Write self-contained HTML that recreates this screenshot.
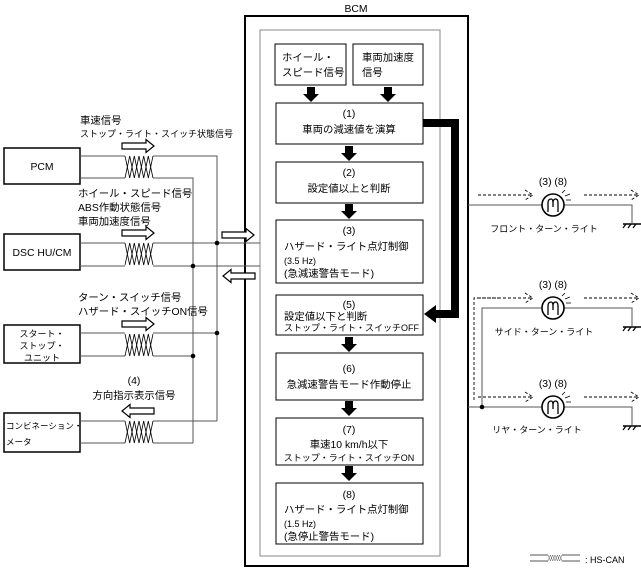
<!DOCTYPE html>
<html><head><meta charset="utf-8"><style>
html,body{margin:0;padding:0;background:#fff;}
svg{display:block;}
text{font-family:"Liberation Sans","Noto Sans CJK JP",sans-serif;fill:#000;}
.s{font-size:9px}.m{font-size:10.4px}
</style></head><body>
<svg width="641" height="573" viewBox="0 0 641 573" xmlns="http://www.w3.org/2000/svg">
<defs>
<g id="tw" fill="none" stroke="#000" stroke-width="0.8">
<polyline points="0,0 4.7,22 9.3,0 14,22 18.7,0 23.3,22 28,0"/>
<polyline points="0,22 4.7,0 9.3,22 14,0 18.7,22 23.3,0 28,22"/>
</g>
<path id="har" d="M0,-3 H24 V-6.5 L32,0 L24,6.5 V3 H0 Z" fill="#fff" stroke="#000" stroke-width="1.2"/>
<path id="bar" d="M-4,0 H4 V7 H8 L0,15 L-8,7 H-4 Z" fill="#000"/>
<g id="lamp" fill="none" stroke="#000">
<circle cx="0" cy="0" r="11" stroke-width="1.6" fill="#fff"/>
<path d="M-5,7 V-2 Q-5,-6 -2,-6 Q0,-6 0,-2 V2 M0,-2 Q0,-6 2.5,-6 Q5,-6 5,-2 V7" stroke-width="1.3"/>
<path d="M9,-12 L12,-15 M12,-9 L17,-11 M13,-5 L18,-5" stroke-width="0.8"/>
</g>
<g id="gnd" stroke="#000" fill="none">
<line x1="-9" y1="0" x2="9" y2="0" stroke-width="1.6"/>
<path d="M-6,0 L-9,4 M-1,0 L-4,4 M4,0 L1,4" stroke-width="1.2"/>
</g>
<path id="dar" d="M0,0 H53 M47,-5 L55,0 L47,5" fill="none" stroke="#000" stroke-width="0.9" stroke-dasharray="3,2"/>
</defs>

<!-- BCM -->
<text x="356" y="12" class="m" text-anchor="middle">BCM</text>
<rect x="245" y="16" width="223" height="550" fill="none" stroke="#000" stroke-width="2"/>
<rect x="260" y="30" width="180" height="526" fill="none" stroke="#888" stroke-width="1"/>

<g fill="#fff" stroke="#000" stroke-width="1">
<rect x="275" y="44" width="71" height="41"/>
<rect x="353" y="44" width="70" height="41"/>
<rect x="276" y="103" width="147" height="41"/>
<rect x="276" y="162" width="147" height="41"/>
<rect x="276" y="220" width="147" height="63"/>
<rect x="276" y="295" width="147" height="40"/>
<rect x="276" y="353" width="147" height="47"/>
<rect x="276" y="418" width="147" height="47"/>
<rect x="276" y="483" width="147" height="61"/>
</g>
<text x="282" y="61" class="m">ホイール・</text>
<text x="282" y="76" class="m">スピード信号</text>
<text x="362" y="61" class="m">車両加速度</text>
<text x="362" y="76" class="m">信号</text>
<use href="#bar" x="311" y="87"/>
<use href="#bar" x="388" y="87"/>
<text x="349" y="117" class="m" text-anchor="middle">(1)</text>
<text x="349" y="133" class="m" text-anchor="middle">車両の減速値を演算</text>
<use href="#bar" x="349" y="146"/>
<text x="349" y="176" class="m" text-anchor="middle">(2)</text>
<text x="349" y="192" class="m" text-anchor="middle">設定値以上と判断</text>
<use href="#bar" x="349" y="204"/>
<text x="349" y="234" class="m" text-anchor="middle">(3)</text>
<text x="284" y="250" class="m">ハザード・ライト点灯制御</text>
<text x="284" y="264" class="s">(3.5 Hz)</text>
<text x="284" y="277" class="m">(急減速警告モード)</text>
<text x="349" y="308" class="m" text-anchor="middle">(5)</text>
<text x="284" y="320" class="m">設定値以下と判断</text>
<text x="284" y="331" class="s">ストップ・ライト・スイッチOFF</text>
<use href="#bar" x="349" y="337"/>
<text x="349" y="372" class="m" text-anchor="middle">(6)</text>
<text x="349" y="388" class="m" text-anchor="middle">急減速警告モード作動停止</text>
<use href="#bar" x="349" y="401"/>
<text x="349" y="433" class="m" text-anchor="middle">(7)</text>
<text x="349" y="448" class="m" text-anchor="middle">車速10 km/h以下</text>
<text x="349" y="461" class="s" text-anchor="middle">ストップ・ライト・スイッチON</text>
<use href="#bar" x="349" y="466"/>
<text x="349" y="498" class="m" text-anchor="middle">(8)</text>
<text x="284" y="513" class="m">ハザード・ライト点灯制御</text>
<text x="284" y="527" class="s">(1.5 Hz)</text>
<text x="284" y="540" class="m">(急停止警告モード)</text>

<!-- thick bracket -->
<path d="M423,123 H455 V314 H434" fill="none" stroke="#000" stroke-width="8"/>
<path d="M424,314 L436,305 V323 Z" fill="#000"/>

<!-- left modules -->
<g fill="#fff" stroke="#000" stroke-width="1.5">
<rect x="4" y="148" width="76" height="36"/>
<rect x="4" y="234" width="76" height="36"/>
<rect x="4" y="325" width="76" height="38"/>
<rect x="4" y="413" width="76" height="39"/>
</g>
<text x="42" y="170" class="m" text-anchor="middle">PCM</text>
<text x="42" y="256" class="m" text-anchor="middle">DSC HU/CM</text>
<text x="42" y="337" class="s" text-anchor="middle">スタート・</text>
<text x="42" y="349" class="s" text-anchor="middle">ストップ・</text>
<text x="42" y="361" class="s" text-anchor="middle">ユニット</text>
<text x="6" y="429" class="s" style="font-size:8.5px">コンビネーション・</text>
<text x="6" y="445" class="s" style="font-size:8.5px">メータ</text>

<g stroke="#555" stroke-width="1" fill="none">
<path d="M80,156 H125 M153,156 H217 V421"/>
<path d="M80,178 H125 M153,178 H193 V443"/>
<path d="M80,243 H125 M153,243 H260"/>
<path d="M80,266 H125 M153,266 H260"/>
<path d="M80,333 H125 M153,333 H217"/>
<path d="M80,356 H125 M153,356 H193"/>
<path d="M80,421 H125 M153,421 H217"/>
<path d="M80,443 H125 M153,443 H193"/>
</g>
<use href="#tw" x="125" y="156"/>
<use href="#tw" x="125" y="243"/>
<use href="#tw" x="125" y="334"/>
<use href="#tw" x="125" y="421"/>
<g fill="#000">
<circle cx="217" cy="243" r="2.3"/><circle cx="193" cy="266" r="2.3"/>
<circle cx="217" cy="333" r="2.3"/><circle cx="193" cy="356" r="2.3"/>
</g>
<use href="#har" x="122" y="146"/>
<use href="#har" x="122" y="233"/>
<use href="#har" x="122" y="324"/>
<use href="#har" transform="translate(154,411) scale(-1,1)"/>
<use href="#har" x="222" y="235"/>
<use href="#har" transform="translate(255,276) scale(-1,1)"/>

<text x="80" y="124" class="m">車速信号</text>
<text x="80" y="137" class="s">ストップ・ライト・スイッチ状態信号</text>
<text x="78" y="197" class="m">ホイール・スピード信号</text>
<text x="78" y="211" class="m">ABS作動状態信号</text>
<text x="78" y="225" class="m">車両加速度信号</text>
<text x="78" y="301" class="m">ターン・スイッチ信号</text>
<text x="78" y="315" class="m">ハザード・スイッチON信号</text>
<text x="134" y="384" class="m" text-anchor="middle">(4)</text>
<text x="134" y="399" class="m" text-anchor="middle">方向指示表示信号</text>

<!-- right side -->
<g stroke="#555" stroke-width="1" fill="none">
<path d="M468,205 H632 V223"/>
<path d="M468,407 H632 V425"/>
<path d="M482,407 V308 H632 V326"/>
</g>
<path d="M474,400 V298 H500" fill="none" stroke="#000" stroke-width="0.9" stroke-dasharray="3,2"/>
<circle cx="482" cy="407" r="2.3" fill="#000"/>
<use href="#lamp" x="553" y="205"/>
<use href="#lamp" x="553" y="308"/>
<use href="#lamp" x="553" y="407"/>
<use href="#gnd" x="632" y="224"/>
<use href="#gnd" x="632" y="327"/>
<use href="#gnd" x="632" y="426"/>
<use href="#dar" x="478" y="195"/>
<use href="#dar" x="584" y="195"/>
<use href="#dar" x="478" y="298"/>
<use href="#dar" x="584" y="298"/>
<use href="#dar" x="478" y="397"/>
<use href="#dar" x="584" y="397"/>
<text x="553" y="185" class="m" text-anchor="middle">(3) (8)</text>
<text x="553" y="288" class="m" text-anchor="middle">(3) (8)</text>
<text x="553" y="387" class="m" text-anchor="middle">(3) (8)</text>
<text x="544" y="232" class="s" text-anchor="middle">フロント・ターン・ライト</text>
<text x="544" y="335" class="s" text-anchor="middle">サイド・ターン・ライト</text>
<text x="537" y="433" class="s" text-anchor="middle">リヤ・ターン・ライト</text>

<!-- legend -->
<path d="M530,555 H548 M562,555 H580 M530,561 H548 M562,561 H580" stroke="#555" fill="none"/>
<g transform="translate(548,555) scale(0.5,0.27)"><use href="#tw"/></g>
<text x="585" y="563" class="s">: HS-CAN</text>
</svg>
</body></html>
